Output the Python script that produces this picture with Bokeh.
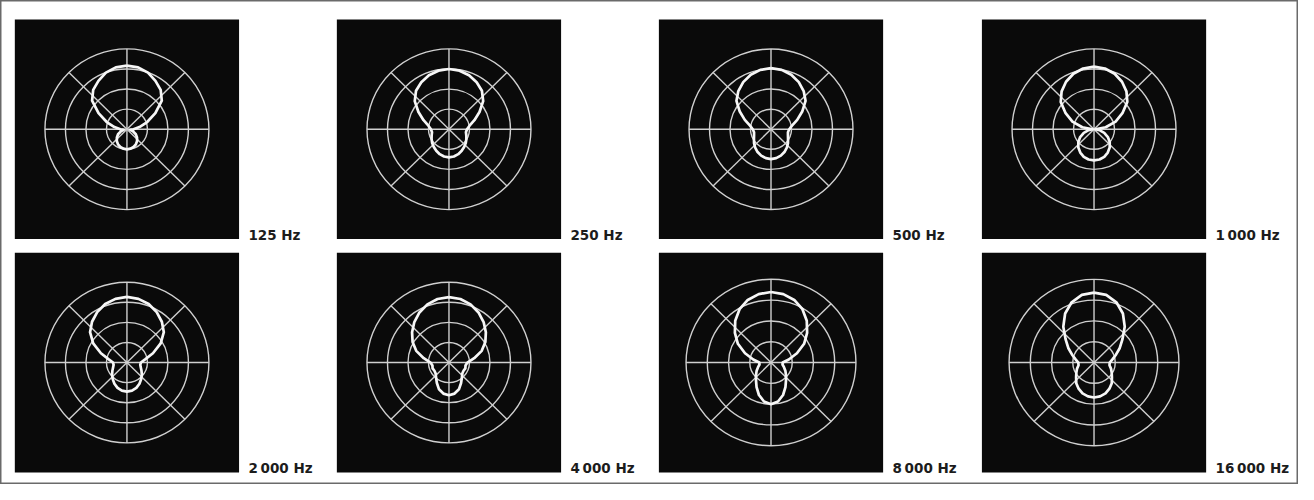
import numpy as np
from bokeh.plotting import figure
from bokeh.models import Range1d
from bokeh.embed import file_html
from bokeh.resources import INLINE
from bokeh.core.properties import value

# ---------------- data (radius in ring units; outer ring = 4) ----------------
ANGLES_DEG = [0, 10, 20, 30, 40, 50, 60, 70, 80, 90,
              100, 110, 120, 130, 140, 150, 160, 170, 180]

FREQ_LABELS = ["125 Hz", "250 Hz", "500 Hz", "1\u2009000 Hz",
               "2\u2009000 Hz", "4\u2009000 Hz", "8\u2009000 Hz", "16\u2009000 Hz"]

R_125 = [3.17, 3.13, 3.00, 2.78, 2.56, 2.22, 1.60, 1.05, 0.62, 0.32,
         0.16, 0.32, 0.50, 0.64, 0.77, 0.87, 0.94, 0.98, 1.00]
R_250 = [3.00, 2.96, 2.86, 2.70, 2.50, 2.18, 1.72, 1.32, 1.02, 0.88,
         0.84, 0.90, 0.98, 1.07, 1.15, 1.24, 1.32, 1.38, 1.40]
R_500 = [3.04, 3.00, 2.89, 2.71, 2.48, 2.20, 1.76, 1.36, 1.04, 0.89,
         0.84, 0.88, 0.96, 1.08, 1.20, 1.31, 1.40, 1.46, 1.49]
R_1000 = [3.12, 3.07, 2.94, 2.73, 2.46, 2.12, 1.60, 1.12, 0.58, 0.06,
          0.27, 0.53, 0.78, 1.00, 1.19, 1.34, 1.46, 1.53, 1.55]
R_2000 = [3.27, 3.22, 3.10, 2.90, 2.65, 2.35, 1.90, 1.35, 0.90, 0.68,
          0.66, 0.72, 0.82, 0.95, 1.08, 1.22, 1.34, 1.42, 1.45]
R_4000 = [3.26, 3.21, 3.08, 2.88, 2.63, 2.35, 2.05, 1.70, 1.25, 0.90,
          0.82, 0.85, 0.82, 0.85, 0.98, 1.18, 1.42, 1.57, 1.63]
R_8000 = [3.39, 3.34, 3.20, 2.96, 2.62, 2.22, 1.80, 1.30, 0.85, 0.55,
          0.55, 0.65, 0.78, 0.92, 1.10, 1.36, 1.66, 1.90, 2.00]
R_16000 = [3.36, 3.30, 3.08, 2.72, 2.25, 1.75, 1.40, 1.10, 0.88, 0.74,
           0.74, 0.85, 0.96, 1.10, 1.30, 1.45, 1.58, 1.65, 1.68]

PATTERNS = [R_125, R_250, R_500, R_1000, R_2000, R_4000, R_8000, R_16000]

RING_LEVELS = [1, 2, 3, 4]
SPOKE_ANGLES_DEG = [0, 45, 90, 135]

# ---------------- layout (reference-image pixel space) ----------------
REF_W, REF_H = 1314, 500
W, H = 1298, 484
COL_X = [128, 454, 780, 1107]
ROW_Y = [133, 374]
RING_PX = [20.75, 20.75, 20.75, 20.75, 20.75, 20.75, 21.5, 21.5]
HALF_BOX = 113.5
LABEL_DX = 123
LABEL_BASE = [242, 483]

p = figure(width=W, height=H, x_range=Range1d(0, REF_W), y_range=Range1d(REF_H, 0),
           output_backend="svg", toolbar_location=None, min_border=0)
p.axis.visible = False
p.grid.visible = False
p.outline_line_color = "#6a6a6a"
p.outline_line_width = 2
p.background_fill_color = "white"
p.border_fill_color = "white"

cxs, cys = [], []
for i in range(8):
    cxs.append(COL_X[i % 4])
    cys.append(ROW_Y[i // 4])

# black panels
p.quad(left=[c - HALF_BOX for c in cxs], right=[c + HALF_BOX for c in cxs],
       top=[c - HALF_BOX for c in cys], bottom=[c + HALF_BOX for c in cys],
       fill_color="#0a0a0a", line_color=None)

# rings
rx, ry, rd = [], [], []
for i in range(8):
    for lv in RING_LEVELS:
        rx.append(cxs[i]); ry.append(cys[i]); rd.append(2 * lv * RING_PX[i])
p.ellipse(x=rx, y=ry, width=rd, height=rd, fill_color=None,
          line_color="#d0d0d0", line_width=1.4)

# spokes
x0, y0, x1, y1 = [], [], [], []
for i in range(8):
    R = RING_LEVELS[-1] * RING_PX[i]
    for a in SPOKE_ANGLES_DEG:
        t = np.radians(a)
        x0.append(cxs[i] - R * np.sin(t)); y0.append(cys[i] + R * np.cos(t))
        x1.append(cxs[i] + R * np.sin(t)); y1.append(cys[i] - R * np.cos(t))
p.segment(x0=x0, y0=y0, x1=x1, y1=y1, line_color="#d0d0d0", line_width=1.4)

# polar patterns (symmetric left/right)
xs, ys = [], []
for i, vals in enumerate(PATTERNS):
    ang = ANGLES_DEG + [360 - a for a in ANGLES_DEG[-2::-1]]
    rad = list(vals) + list(vals[-2::-1])
    t = np.radians(np.array(ang, dtype=float))
    r = np.array(rad) * RING_PX[i]
    xs.append(list(cxs[i] + r * np.sin(t)))
    ys.append(list(cys[i] - r * np.cos(t)))
p.multi_line(xs=xs, ys=ys, line_color="#f7f7f7", line_width=2.7, line_join="round")

# labels
p.text(x=[c + LABEL_DX for c in cxs], y=[LABEL_BASE[i // 4] for i in range(8)],
       text=FREQ_LABELS, text_font=value("DejaVu Sans"), text_font_style="bold",
       text_font_size="13.5px", text_color="#1c1c1c",
       text_baseline="alphabetic", text_align="left")

open("out.html", "w").write(file_html(p, INLINE))
